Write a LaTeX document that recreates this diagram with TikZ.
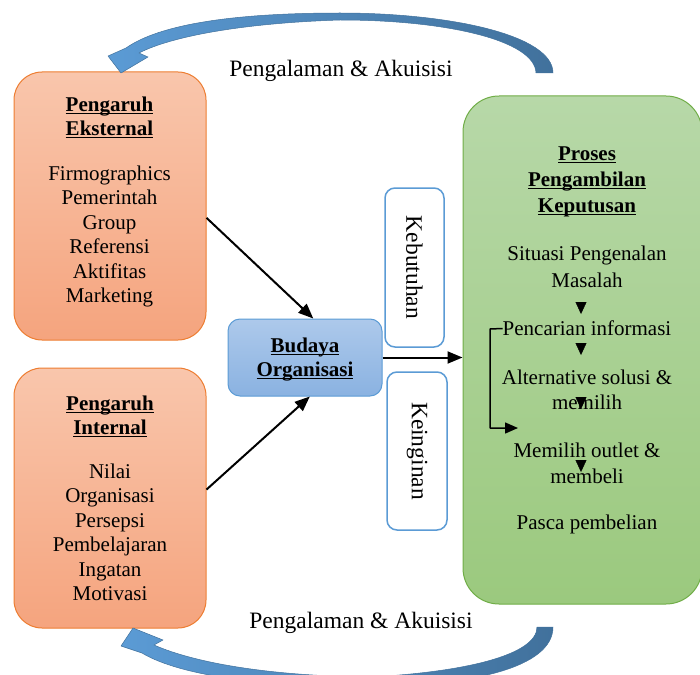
\documentclass[tikz,border=0pt]{standalone}
\usepackage{fontspec}
\setmainfont{Liberation Serif}
\usetikzlibrary{arrows.meta}

\definecolor{orangetop}{HTML}{F9C6AC}
\definecolor{orangebot}{HTML}{F5A47E}
\definecolor{orangeline}{HTML}{ED7D31}
\definecolor{bluetop}{HTML}{ADC9EB}
\definecolor{bluebot}{HTML}{8AB2E1}
\definecolor{blueline}{HTML}{5B9BD5}
\definecolor{greentop}{HTML}{B7D8A8}
\definecolor{greenbot}{HTML}{9BC97E}
\definecolor{greenline}{HTML}{70AD47}
\definecolor{arrowlight}{HTML}{5B9BD5}
\definecolor{arrowdark}{HTML}{41719C}

\newcommand{\judul}[1]{\setbox0\hbox{\textbf{#1}}\rlap{\rule[-2.4pt]{\wd0}{1.1pt}}\box0}

\begin{document}
\begin{tikzpicture}[x=1pt, y=-1pt, line join=round, >={Triangle[length=15pt,width=12pt]},
		isi/.style={font=\fontsize{21}{24.5}\selectfont, align=center, inner sep=0pt},
		besar/.style={font=\fontsize{23.5}{28}\selectfont, inner sep=0pt},
		pengaruh/.style={draw=orangeline, line width=1pt, top color=orangetop, bottom color=orangebot, rounded corners=28pt, minimum width=192pt, inner sep=0pt},
		budaya/.style={draw=blueline, line width=1pt, top color=bluetop, bottom color=bluebot, rounded corners=12pt, minimum width=154pt, minimum height=77pt, inner sep=0pt},
		kotak/.style={draw=blueline, line width=1.5pt, fill=white, rounded corners=10pt, minimum width=59pt, minimum height=159pt, inner sep=0pt},
		proses/.style={draw=greenline, line width=1pt, top color=greentop, bottom color=greenbot, rounded corners=36pt, minimum width=239pt, minimum height=508pt, inner sep=0pt},
		panah/.style={draw=arrowdark, line width=.5pt, left color=arrowlight, right color=arrowdark}]
	\useasboundingbox (0,0) rectangle (700,674);
	\clip (0,0) rectangle (700,674);
	% kotak-kotak
	\node[pengaruh, minimum height=268pt] (ext) at (110,206) {};
	\node[pengaruh, minimum height=260pt] (int) at (110,498) {};
	\node[budaya] (bud) at (305,357.5) {};
	\node[kotak] (keb) at (414.5,267.5) {};
	\node[kotak, minimum width=60pt, minimum height=158pt] (kei) at (417,451) {};
	\node[proses] (pro) at (582.5,350) {};
	% teks
	\node[isi] (exttxt) at (109.5,202) {\judul{Pengaruh}\\\judul{Eksternal}\\[20pt]Firmographics\\Pemerintah\\Group\\Referensi\\Aktifitas\\Marketing};
	\node[isi] (inttxt) at (110,498.5) {\judul{Pengaruh}\\\judul{Internal}\\[19pt]Nilai\\Organisasi\\Persepsi\\Pembelajaran\\Ingatan\\Motivasi};
	\node[isi] (budtxt) at (305,359.5) {\judul{Budaya}\\\judul{Organisasi}};
	\node[besar, rotate=-90] (kebtxt) at (keb) {Kebutuhan};
	\node[besar, rotate=-90] (keitxt) at (kei) {Keinginan};
	\node[isi, font=\fontsize{21}{26}\selectfont] (protxt) at (587,182) {\judul{Proses}\\\judul{Pengambilan}\\\judul{Keputusan}};
	\node[isi, font=\fontsize{21}{27}\selectfont] (s1) at (587,267) {Situasi Pengenalan\\Masalah};
	\node[isi] (s2) at (587,328.5) {Pencarian informasi};
	\node[isi] (s3) at (587,390) {Alternative solusi \&\\memilih};
	\node[isi, font=\fontsize{21}{26}\selectfont] (s4) at (587,463.5) {Memilih outlet \&\\membeli};
	\node[isi] (s5) at (587,524.5) {Pasca pembelian};
	\node[besar] (atas) at (341,71) {Pengalaman \& Akuisisi};
	\node[besar] (bawah) at (361,623) {Pengalaman \& Akuisisi};
	% panah
	\draw[->, line width=2pt] (ext.-7) -- (bud.78);
	\draw[->, line width=2pt] (int.5) -- (bud.-83);
	\draw[->, line width=2pt] (bud.east) -- (pro.west |- bud.east);
	\foreach \y in {308,349,403,466}
	\draw[-{Triangle[length=12pt,width=11pt]}] (581,\y-6) -- (581,\y+6);
	\draw[-{Triangle[length=13pt,width=11pt]}, line width=1.5pt] (s2.west) -- (490,329) |- (518,428);
	% panah melengkung
	\path[panah] (553,73) .. controls (553,35) and (450,13) .. (340,13) .. controls (235,13) and (160,24) .. (126,48)
		-- (108,56) -- (121,73) -- (148,57) -- (139,53)
		.. controls (172,36) and (245,23) .. (340,20) .. controls (445,20) and (535,40) .. (536,73) -- cycle;
	\path[panah] (553,627) .. controls (553,668) and (470,686) .. (370,686) .. controls (270,688) and (180,676) .. (142,653)
		-- (121,646) -- (133,628) -- (163,640) -- (154,645)
		.. controls (195,663) and (270,676) .. (370,677) .. controls (465,672) and (537,655) .. (537,627) -- cycle;
\end{tikzpicture}
\end{document}
